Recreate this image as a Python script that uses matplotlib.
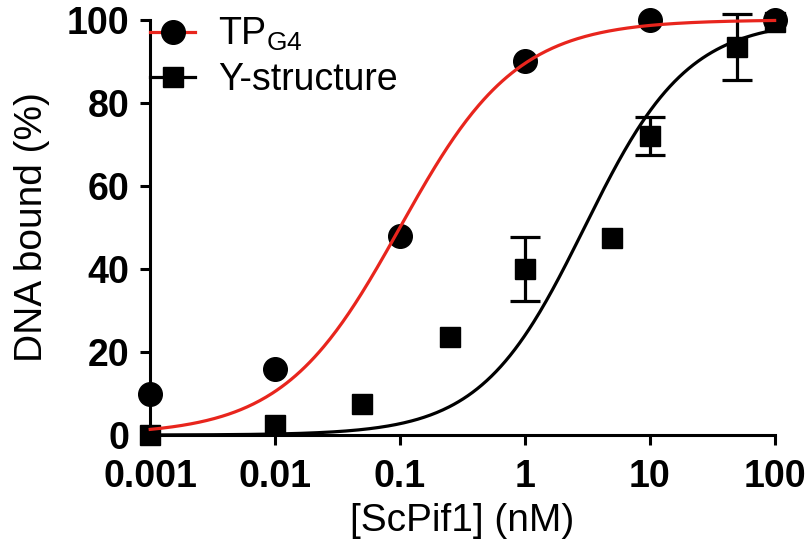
import numpy as np
import matplotlib
matplotlib.use("Agg")
from matplotlib import pyplot as plt
from matplotlib.lines import Line2D

# data
tp_x = [0.001, 0.01, 0.1, 1, 10, 100]
tp_y = [10, 16, 48, 90, 100, 100]

y_x = [0.001, 0.01, 0.05, 0.25, 1, 5, 10, 50, 100]
y_y = [0, 2.5, 7.5, 23.5, 40, 47.5, 72, 93.5, 99.5]
y_err = [0, 0, 0, 0, 7.8, 0, 4.5, 8, 0]

# fitted Hill parameters (K in nM, slope n)
tp_fit = (0.1, 0.93)
y_fit = (3.0, 1.05)

x_ticks = [0.001, 0.01, 0.1, 1, 10, 100]
x_tick_labels = ["0.001", "0.01", "0.1", "1", "10", "100"]
y_ticks = [0, 20, 40, 60, 80, 100]

RED = "#e8251d"

plt.rcParams['font.family'] = ['Liberation Sans', 'DejaVu Sans']
plt.rcParams['mathtext.fontset'] = 'custom'
plt.rcParams['mathtext.rm'] = 'Liberation Sans'


def hill(x, k, n):
    return 100 * x ** n / (k ** n + x ** n)


fig = plt.figure(figsize=(8.12, 5.5), dpi=100)
ax = fig.add_axes([0.185, 0.209, 0.769, 0.755])

xs = np.logspace(-3, 2, 400)
ax.plot(xs, hill(xs, *tp_fit), color=RED, lw=2.3, zorder=4, clip_on=False)
ax.plot(xs, hill(xs, *y_fit), color="black", lw=2.3, zorder=4, clip_on=False)

ax.plot(tp_x, tp_y, 'o', color="black", ms=17, zorder=3, clip_on=False)
ax.plot(y_x, y_y, 's', color="black", ms=15, zorder=3, clip_on=False)

yx = np.array(y_x)
yy = np.array(y_y)
ye = np.array(y_err)
has_err = ye > 0
ax.errorbar(yx[has_err], yy[has_err], yerr=ye[has_err], fmt='none',
            ecolor="black", elinewidth=2.3, capsize=11, capthick=2.3,
            zorder=3, clip_on=False)

ax.set_xscale('log')
ax.set_xlim(0.001, 100)
ax.set_ylim(0, 100)
ax.set_xticks(x_ticks)
ax.set_xticklabels(x_tick_labels)
ax.xaxis.set_minor_locator(matplotlib.ticker.NullLocator())
ax.set_yticks(y_ticks)

for s in ['top', 'right']:
    ax.spines[s].set_visible(False)
for s in ['left', 'bottom']:
    ax.spines[s].set_linewidth(2.2)

ax.tick_params(axis='both', direction='out', length=7, width=2.2,
               labelsize=27)
ax.tick_params(axis='x', pad=10)
ax.tick_params(axis='y', pad=8)
for lab in ax.get_xticklabels() + ax.get_yticklabels():
    lab.set_fontweight('bold')

ax.set_xlabel("[ScPif1] (nM)", fontsize=28, labelpad=6)
ax.set_ylabel("DNA bound (%)", fontsize=28, labelpad=12)

handles = [
    Line2D([], [], color=RED, lw=2.3, marker='o', ms=17,
           markerfacecolor="black", markeredgecolor="black"),
    Line2D([], [], color="black", lw=2.3, marker='s', ms=15),
]
ax.legend(handles, [r"TP$_{\mathrm{G4}}$", "Y-structure"],
          loc='upper left', bbox_to_anchor=(0.0, 1.01), frameon=False,
          fontsize=27, handlelength=1.2, handletextpad=0.6,
          labelspacing=0.25, borderpad=0, borderaxespad=0)

fig.savefig("out.png", dpi=100)
